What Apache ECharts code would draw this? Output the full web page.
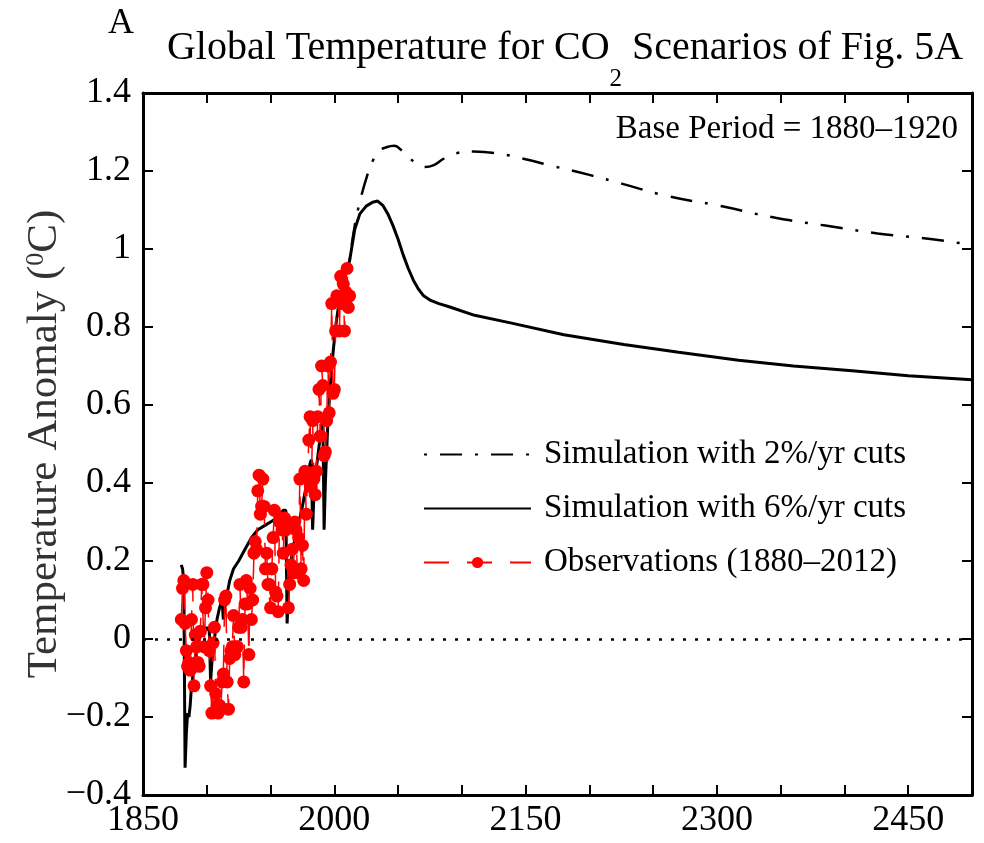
<!DOCTYPE html>
<html><head><meta charset="utf-8">
<script src="https://cdn.jsdelivr.net/npm/echarts@6/dist/echarts.min.js"></script>
<style>html,body{margin:0;padding:0;background:#fff}#c{width:984px;height:843px}</style>
</head><body><div id="c"></div>
<script>
// ---------- data ----------
const titleText = '{m|Global Temperature for CO}{sub|2}{m| Scenarios of Fig. 5A}';
const panelLetter = 'A';
const basePeriodText = 'Base Period = 1880\u20131920';
const xTickLabels = [1850, 2000, 2150, 2300, 2450];
const yTickLabels = [-0.4, -0.2, 0, 0.2, 0.4, 0.6, 0.8, 1, 1.2, 1.4];

const seriesNames = ['Simulation with 2%/yr cuts', 'Simulation with 6%/yr cuts', 'Observations (1880\u20132012)'];

// Simulation with 6%/yr cuts
const sim6Years = [1880,1881,1882,1883,1884,1885,1886,1887,1888,1889,1890,1892,1894,1896,1898,1900,1902,1903,1904,1906,1908,1910,1912,1913,1915,1918,1921,1925,1930,1935,1940,1945,1950,1955,1960,1962,1963,1964,1966,1968,1971,1975,1979,1981,1982,1983,1984,1986,1989,1991,1992,1993,1995,1998,2001,2004,2008,2012,2016,2020,2025,2030,2034,2038,2042,2046,2050,2054,2058,2062,2066,2070,2075,2082,2090,2110,2139,2180,2227,2270,2317,2360,2406,2450,2500];
const sim6Vals  = [0.19,0.18,0.15,-0.33,-0.24,-0.19,-0.2,-0.17,-0.12,-0.1,-0.06,-0.03,0.0,0.01,0.02,0.03,0.02,-0.11,-0.06,0.0,0.05,0.08,0.1,0.05,0.1,0.15,0.18,0.2,0.23,0.26,0.28,0.29,0.3,0.31,0.33,0.33,0.04,0.12,0.2,0.24,0.28,0.34,0.41,0.45,0.46,0.28,0.37,0.44,0.52,0.57,0.28,0.4,0.56,0.7,0.8,0.87,0.93,0.97,1.05,1.09,1.11,1.12,1.123,1.112,1.09,1.06,1.025,0.985,0.95,0.92,0.897,0.88,0.869,0.86,0.852,0.83,0.81,0.78,0.755,0.735,0.715,0.7,0.688,0.675,0.665];

// Simulation with 2%/yr cuts (diverges from the 6% run after ~2012)
const sim2Years = [2012,2016,2020,2025,2030,2035,2040,2047,2052,2057,2064,2071,2078,2086,2095,2109,2120,2132,2150,2171,2200,2226,2261,2303,2346,2385,2426,2469,2500];
const sim2Vals  = [0.97,1.06,1.12,1.18,1.225,1.25,1.26,1.265,1.255,1.24,1.22,1.21,1.215,1.232,1.245,1.25,1.248,1.243,1.23,1.213,1.19,1.167,1.136,1.11,1.08,1.06,1.04,1.025,1.01];

// Observations, annual 1880..2012
const obsStartYear = 1880;
const obsVals = [
 0.05,0.13,0.15,0.04,-0.03,-0.07,-0.06,-0.08,0.05,0.14,
 -0.12,0.01,-0.02,-0.06,-0.07,0.02,0.14,0.14,-0.02,0.08,
 0.17,0.10,-0.03,-0.12,-0.19,-0.01,0.03,-0.14,-0.17,-0.19,
 -0.17,-0.18,-0.11,-0.09,0.10,0.11,-0.11,-0.18,-0.05,-0.03,
 -0.02,0.06,-0.04,-0.02,-0.02,0.03,0.14,0.03,0.05,-0.11,
 0.09,0.15,0.09,-0.04,0.13,0.05,0.10,0.22,0.25,0.23,
 0.38,0.42,0.32,0.34,0.41,0.34,0.18,0.22,0.14,0.14,
 0.08,0.18,0.26,0.33,0.12,0.11,0.07,0.30,0.31,0.28,
 0.22,0.31,0.28,0.30,0.08,0.14,0.19,0.23,0.17,0.30,
 0.28,0.17,0.26,0.41,0.18,0.24,0.15,0.43,0.32,0.41,
 0.51,0.57,0.39,0.56,0.41,0.37,0.43,0.57,0.64,0.52,
 0.70,0.65,0.47,0.48,0.56,0.70,0.58,0.71,0.86,0.63,
 0.64,0.79,0.88,0.87,0.79,0.93,0.86,0.91,0.79,0.89,
 0.95,0.85,0.88];

// ---------- build ----------
const pairs = (xs, ys) => xs.map((x, i) => [x, ys[i]]);
const obsData = obsVals.map((v, i) => [obsStartYear + i, v]);
const FONT = 'Liberation Serif, Times New Roman, serif';

const fmtY = v => {
  const r = Math.round(v * 10) / 10;
  if (!yTickLabels.some(t => Math.abs(t - r) < 1e-9)) return '';
  const s = String(Math.abs(r));
  return (r < 0 ? '\u2212' : '') + s;
};
const fmtX = v => xTickLabels.includes(Math.round(v)) ? String(Math.round(v)) : '';

const axisCommon = {
  type: 'value',
  axisLine: { show: true, onZero: false, lineStyle: { color: '#000', width: 3 } },
  axisTick: { show: true, inside: true, length: 10, lineStyle: { color: '#000', width: 2 } },
  splitLine: { show: false }
};

const chart = echarts.init(document.getElementById('c'), null, { renderer: 'canvas' });
chart.setOption({
  animation: false,
  backgroundColor: '#fff',
  title: {
    text: titleText,
    left: 560, top: 23, textAlign: 'center',
    textStyle: {
      fontFamily: FONT, fontSize: 40, fontWeight: 'normal', color: '#000',
      rich: {
        m: { fontFamily: FONT, fontSize: 40, color: '#000', verticalAlign: 'top', lineHeight: 44 },
        sub: { fontFamily: FONT, fontSize: 25, color: '#000', verticalAlign: 'bottom', lineHeight: 64 }
      }
    }
  },
  graphic: [
    { type: 'text', left: 108, top: 6, style: { text: panelLetter, font: '36px ' + FONT, fill: '#000' } },
    { type: 'text', right: 26, top: 113, style: { text: basePeriodText, font: '33px ' + FONT, fill: '#000' } }
  ],
  legend: {
    orient: 'vertical', left: 418, top: 433, itemWidth: 107, itemHeight: 14, itemGap: 21,
    textStyle: { fontFamily: FONT, fontSize: 33, color: '#000', padding: [0, 0, 0, 8] },
    data: [
      { name: seriesNames[0], itemStyle: { opacity: 0 } },
      { name: seriesNames[1], itemStyle: { opacity: 0 } },
      { name: seriesNames[2] }
    ]
  },
  grid: { left: 143, right: 12, top: 93, bottom: 48, containLabel: false },
  xAxis: [
    Object.assign({}, axisCommon, {
      min: 1850, max: 2500, interval: 50, position: 'bottom',
      axisLabel: { show: true, formatter: fmtX, fontFamily: FONT, fontSize: 36, color: '#000', margin: 8, showMinLabel: true, showMaxLabel: true, hideOverlap: false }
    }),
    Object.assign({}, axisCommon, {
      min: 1850, max: 2500, interval: 50, position: 'top', axisLabel: { show: false }
    })
  ],
  yAxis: [
    Object.assign({}, axisCommon, {
      min: -0.4, max: 1.4, interval: 0.2, position: 'left',
      name: 'Temperature Anomaly ({sup|0}C)', nameLocation: 'middle', nameGap: 77, nameMoveOverlap: false,
      nameTextStyle: { fontFamily: FONT, fontSize: 43, color: '#333', rich: { sup: { fontFamily: FONT, fontSize: 26, color: '#333', verticalAlign: 'top', lineHeight: 43 } } },
      axisLabel: { show: true, formatter: fmtY, fontFamily: FONT, fontSize: 36, color: '#000', margin: 12, hideOverlap: false }
    }),
    Object.assign({}, axisCommon, {
      min: -0.4, max: 1.4, interval: 0.2, position: 'right', axisLabel: { show: false }
    })
  ],
  series: [
    {
      name: seriesNames[1], type: 'line', data: pairs(sim6Years, sim6Vals),
      showSymbol: false, symbol: 'none', smooth: false,
      lineStyle: { color: '#000', width: 3, type: 'solid' }, itemStyle: { color: '#000' },
      markLine: {
        silent: true, symbol: 'none', label: { show: false },
        lineStyle: { color: '#000', width: 2.5, type: [3, 9] },
        data: [{ yAxis: 0 }]
      }
    },
    {
      name: seriesNames[0], type: 'line', data: pairs(sim2Years, sim2Vals),
      showSymbol: false, symbol: 'none', smooth: true,
      lineStyle: { color: '#000', width: 2.5, type: [3, 13, 22, 13] }, itemStyle: { color: '#000' }
    },
    {
      name: seriesNames[2], type: 'line', data: obsData,
      symbol: 'circle', symbolSize: 13, showSymbol: true, showAllSymbol: true,
      lineStyle: { color: '#ff0000', width: 1.5, type: [25, 18] },
      itemStyle: { color: '#ff0000' }
    }
  ]
});
</script>
</body></html>
